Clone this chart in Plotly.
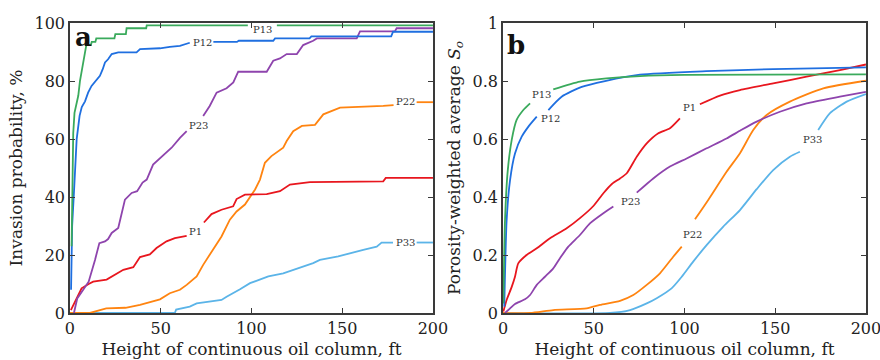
import plotly.graph_objects as go

N = None
# ---------------- Panel a: invasion probability (%) ----------------
a_p13_x = [0.9, 1.2, 1.8, 2.5, 3.7, 4.6, 5.5, 6.4, 7.2, 7.9, 9.0, 11.5, 12, 14, 14.5, 24.5, 25, 30.8, 31.2, 42, 42.3, 98, N, 114, 200]
a_p13_y = [23, 45, 62, 69, 72, 75, 80, 83, 87, 88.5, 92.4, 92.4, 93.5, 93.5, 94.7, 94.7, 96.2, 96.2, 98.2, 98.2, 99.2, 99.2, N, 99.2, 99.2]

a_p12_x = [0.6, 1.2, 2.4, 3.7, 5.3, 6.5, 8.3, 10, 11.9, 14, 16.5, 18, 19.3, 21, 23, 26.6, 36.7, 38.6, 49.6, 55, 60.6, 66, N, 79, 92, 93, 112, 113, 132, 133, 177, 178, 200]
a_p12_y = [8, 30, 44, 60, 68, 71, 73, 76, 78.3, 80, 81.8, 84, 86.4, 87.5, 89.3, 89.9, 89.9, 91, 91.3, 91.8, 92.1, 93.2, N, 93.5, 93.5, 93.9, 93.9, 94.7, 94.7, 95.4, 95.4, 97, 97]

a_p23_x = [2.2, 4, 7.3, 10.3, 13.8, 16.2, 19.3, 21, 23, 26.6, 28, 30.3, 34, 37, 40, 42.3, 45.8, 51.2, 56, 60.6, 64.3, N, 73.4, 77, 80.8, 86.3, 90, 92.7, 108.4, 112, 115.7, 119.4, 125, 128.5, 134, 136, 158, 159.8, 179, 180, 200]
a_p23_y = [0, 5, 8, 10.8, 18.3, 24.1, 24.7, 25.5, 27.6, 29.3, 33, 39.1, 41.4, 42, 45, 46, 51.2, 54.1, 57, 60.4, 62.7, N, 67.9, 71.4, 76, 77.5, 79.5, 83.2, 83.2, 87, 87.8, 89.3, 89.3, 92.4, 93.9, 94.7, 94.7, 97.1, 97.1, 98.2, 98.2]

a_p22_x = [0, 11, 20, 30.6, 38.6, 43, 49.6, 55, 60.6, 64.3, 69.8, 73.4, 79, 83.5, 88.1, 91.8, 96.4, 99.2, 102, 104.7, 107.4, 111, 117.5, 119.4, 123, 127.8, 135, 139.6, 148.8, 172.6, 178.3, N, 191, 200]
a_p22_y = [0, 0, 1.6, 1.8, 2.8, 3.6, 4.7, 6.8, 8, 9.7, 12.6, 16.6, 21.8, 26.4, 32.2, 35, 37.4, 40.2, 42.6, 46, 51.8, 54.1, 57, 59.3, 62.7, 64.5, 64.9, 68.5, 70.8, 71.4, 71.7, N, 72.7, 72.7]

a_p1_x = [0.5, 1, 4.6, 6.4, 10.3, 12.8, 20.2, 24.8, 29.4, 34.9, 38.6, 44, 47.7, 53.2, 57.8, 64.3, N, 73.8, 78, 83.5, 89.9, 91.8, 96.4, 108.4, 115.7, 121.2, 132.2, 172.6, 174, 200]
a_p1_y = [1.0, 1.6, 6.2, 8.5, 10, 10.8, 11.5, 13.1, 14.9, 15.8, 19.3, 20.2, 22.4, 24.7, 25.8, 26.6, N, 31.2, 34.1, 35.6, 36.8, 39.3, 40.8, 41, 42, 44.3, 45.1, 45.4, 46.6, 46.6]

a_p33_x = [0, 57.8, 58.5, 66, 69.8, 83.5, 86.3, 90, 93.7, 99.2, 103.7, 109.3, 117.5, 123, 126.7, 134, 137.7, 147.8, 161.6, 169, 171.7, 178, N, 191, 200]
a_p33_y = [0, 0, 1.2, 2.2, 3.3, 4.5, 5.6, 6.8, 8.2, 10.3, 11.4, 12.6, 13.7, 14.9, 15.8, 17.2, 18.3, 19.5, 21.8, 22.9, 24.3, 24.3, N, 24.3, 24.3]

# ---------------- Panel b: porosity-weighted average So ----------------
b_p13_x = [0.2, 1.1, 2.6, 4.8, 7.5, 11.2, 14.9, N, 27.7, 42.4, 57, 75.5, 100, 200]
b_p13_y = [0.033, 0.32, 0.49, 0.597, 0.666, 0.70, 0.723, N, 0.771, 0.798, 0.809, 0.817, 0.821, 0.823]

b_p12_x = [0.7, 2, 3.9, 6.6, 10.3, 13.9, 18.6, N, 25, 32.3, 43.4, 56.2, 75.5, 112, 149, 200]
b_p12_y = [0.022, 0.32, 0.459, 0.55, 0.608, 0.642, 0.677, N, 0.70, 0.746, 0.78, 0.80, 0.822, 0.834, 0.841, 0.847]

b_p1_x = [0.2, 2, 4.8, 6.6, 8.4, 13, 18.6, 25.9, 35.1, 42.4, 49.8, 55.3, 60, 64.5, 68.2, 73.7, 79.2, 85.6, 92, 97.5, N, 108.5, 119.6, 130.6, 148.9, 167.3, 185.7, 200]
b_p1_y = [0.005, 0.045, 0.09, 0.125, 0.171, 0.2, 0.223, 0.258, 0.292, 0.327, 0.369, 0.413, 0.445, 0.464, 0.482, 0.539, 0.585, 0.62, 0.637, 0.671, N, 0.72, 0.75, 0.769, 0.792, 0.815, 0.838, 0.857]

b_p23_x = [1.1, 3.9, 6.6, 12.1, 14.9, 18.6, 23.1, 27.7, 31.4, 36, 42.4, 47.9, 55.3, 60.8, N, 73.7, 82.8, 92, 101.2, 112.2, 123.2, 131, 139.8, 152.6, 167.3, 185.7, 200]
b_p23_y = [0, 0.016, 0.031, 0.047, 0.062, 0.097, 0.125, 0.154, 0.189, 0.229, 0.269, 0.309, 0.344, 0.367, N, 0.415, 0.464, 0.505, 0.533, 0.568, 0.602, 0.63, 0.66, 0.694, 0.723, 0.746, 0.763]

b_p22_x = [0, 15, 27.7, 46.1, 53.4, 64.5, 71.8, 79.2, 86.5, 93.8, 98.5, N, 105.8, 113.1, 123.2, 130.6, 137.9, 145.3, 158.1, 176.5, 200]
b_p22_y = [0, 0, 0.01, 0.016, 0.028, 0.042, 0.062, 0.097, 0.137, 0.194, 0.229, N, 0.323, 0.39, 0.487, 0.551, 0.631, 0.683, 0.729, 0.775, 0.801]

b_p33_x = [0, 59, 70, 79.2, 84.7, 92.9, 98.5, 104.8, 112.2, 121.4, 130.6, 139.8, 148.9, 158.1, 163.6, N, 173.7, 180.2, 189.4, 200]
b_p33_y = [0, 0, 0.01, 0.033, 0.051, 0.085, 0.125, 0.177, 0.234, 0.298, 0.355, 0.427, 0.493, 0.539, 0.556, N, 0.631, 0.689, 0.729, 0.755]

names = ["P13", "P12", "P23", "P22", "P1", "P33"]
colors = {"P13": "#3aaa5c", "P12": "#1f6fe0", "P23": "#8e44ad", "P22": "#ff8410", "P1": "#e8161e", "P33": "#5bb4e8"}

panel_a = {"P13": (a_p13_x, a_p13_y), "P12": (a_p12_x, a_p12_y), "P23": (a_p23_x, a_p23_y),
           "P22": (a_p22_x, a_p22_y), "P1": (a_p1_x, a_p1_y), "P33": (a_p33_x, a_p33_y)}
panel_b = {"P13": (b_p13_x, b_p13_y), "P12": (b_p12_x, b_p12_y), "P23": (b_p23_x, b_p23_y),
           "P22": (b_p22_x, b_p22_y), "P1": (b_p1_x, b_p1_y), "P33": (b_p33_x, b_p33_y)}

# inline label anchor points (data coords)
labels_a = {"P13": (106.3, 97.6), "P12": (72.8, 93.3), "P23": (70.6, 64.7),
            "P22": (185, 73.1), "P1": (69.4, 28.1), "P33": (185, 24.3)}
labels_b = {"P13": (21.3, 0.754), "P12": (25.9, 0.671), "P1": (103, 0.709),
            "P23": (70.4, 0.384), "P22": (104.5, 0.271), "P33": (170.6, 0.597)}

FONT = "'DejaVu Serif', 'Liberation Serif', serif"
fig = go.Figure()
draw_order = ["P33", "P22", "P1", "P23", "P12", "P13"]
for nm in draw_order:
    x, y = panel_a[nm]
    fig.add_trace(go.Scatter(x=x, y=y, mode="lines", line=dict(color=colors[nm], width=1.8),
                             connectgaps=False, showlegend=False, xaxis="x", yaxis="y"))
    x, y = panel_b[nm]
    fig.add_trace(go.Scatter(x=x, y=y, mode="lines", line=dict(color=colors[nm], width=1.8, shape="spline", smoothing=0.6),
                             connectgaps=False, showlegend=False, xaxis="x2", yaxis="y2"))

annots = []
for nm, (lx, ly) in labels_a.items():
    annots.append(dict(x=lx, y=ly, xref="x", yref="y", text=nm, showarrow=False,
                       font=dict(family=FONT, size=10, color="#333333")))
for nm, (lx, ly) in labels_b.items():
    annots.append(dict(x=lx, y=ly, xref="x2", yref="y2", text=nm, showarrow=False,
                       font=dict(family=FONT, size=10, color="#333333")))
annots.append(dict(x=0.0835, y=0.945, xref="paper", yref="paper", text="<b>a</b>", showarrow=False,
                   font=dict(family=FONT, size=26, color="#111111")))
annots.append(dict(x=0.586, y=0.922, xref="paper", yref="paper", text="<b>b</b>", showarrow=False,
                   font=dict(family=FONT, size=26, color="#111111")))

axis_common = dict(showgrid=False, zeroline=False, showline=True, linecolor="#3a3a3a", linewidth=1.5,
                   mirror="allticks", ticks="inside", ticklen=5, tickwidth=1, tickcolor="#3a3a3a",
                   automargin=False, ticklabeloverflow="allow",
                   tickfont=dict(family=FONT, size=16, color="#222222"))

fig.update_layout(
    width=880, height=360, margin=dict(l=0, r=0, t=0, b=0, autoexpand=False),
    plot_bgcolor="white", paper_bgcolor="white",
    font=dict(family=FONT, color="#222222"),
    xaxis=dict(domain=[0.0795, 0.492], range=[0, 200], tickvals=[0, 50, 100, 150, 200],
               title=dict(text="Height of continuous oil column, ft", font=dict(family=FONT, size=17), standoff=6),
               anchor="y", **axis_common),
    yaxis=dict(domain=[0.1306, 0.936], range=[0, 100], tickvals=[0, 20, 40, 60, 80, 100],
               title=dict(text="Invasion probability, %", font=dict(family=FONT, size=17), standoff=8),
               anchor="x", **axis_common),
    xaxis2=dict(domain=[0.5716, 0.984], range=[0, 200], tickvals=[0, 50, 100, 150, 200],
                title=dict(text="Height of continuous oil column, ft", font=dict(family=FONT, size=17), standoff=6),
                anchor="y2", **axis_common),
    yaxis2=dict(domain=[0.1306, 0.936], range=[0, 1], tickvals=[0, 0.2, 0.4, 0.6, 0.8, 1],
                ticktext=["0", "0.2", "0.4", "0.6", "0.8", "1"],
                title=dict(text="Porosity-weighted average <i>S</i><sub><i>o</i></sub>", font=dict(family=FONT, size=17), standoff=8),
                anchor="x2", **axis_common),
    annotations=annots,
)

fig.write_html("out.html")
